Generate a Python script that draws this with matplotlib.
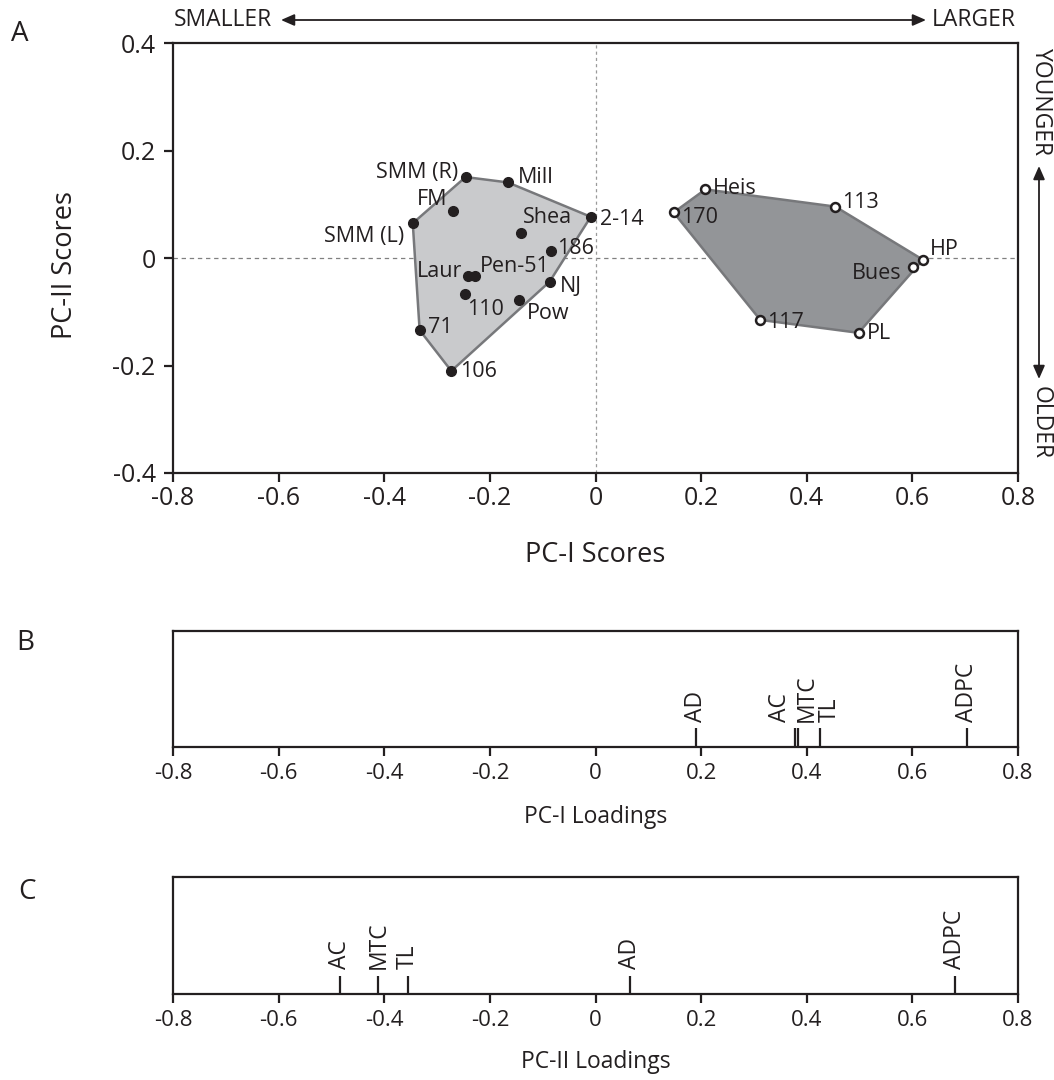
import matplotlib
matplotlib.use("Agg")
import matplotlib.pyplot as plt
import numpy as np

plt.rcParams['font.family'] = ['Open Sans', 'DejaVu Sans']
INK = '#231f20'

# ---- PC scores: group with filled markers ----
g1_names = ['SMM (R)', 'Mill', 'FM', 'SMM (L)', 'Shea', '2-14', '186', 'Laur',
            'Pen-51', 'NJ', '110', 'Pow', '71', '106']
g1_pc1 = [-0.246, -0.166, -0.270, -0.346, -0.141, -0.009, -0.084, -0.242,
          -0.229, -0.087, -0.247, -0.144, -0.333, -0.273]
g1_pc2 = [0.151, 0.141, 0.087, 0.065, 0.047, 0.077, 0.014, -0.033,
          -0.033, -0.044, -0.067, -0.078, -0.134, -0.210]

# ---- PC scores: group with open markers ----
g2_names = ['Heis', '170', '113', 'HP', 'Bues', '117', 'PL']
g2_pc1 = [0.208, 0.148, 0.454, 0.620, 0.601, 0.312, 0.498]
g2_pc2 = [0.128, 0.085, 0.096, -0.003, -0.017, -0.115, -0.139]

# ---- variable loadings ----
load_vars = ['AD', 'AC', 'MTC', 'TL', 'ADPC']
pc1_load = [0.190, 0.378, 0.384, 0.425, 0.703]
pc2_load = [0.065, -0.483, -0.411, -0.355, 0.680]

ticks = [-0.8, -0.6, -0.4, -0.2, 0, 0.2, 0.4, 0.6, 0.8]
tick_text = ['-0.8', '-0.6', '-0.4', '-0.2', '0', '0.2', '0.4', '0.6', '0.8']
yticks_a = [-0.4, -0.2, 0, 0.2, 0.4]
ytick_text_a = ['-0.4', '-0.2', '0', '0.2', '0.4']

# label placement (pixel offsets from each marker, horizontal alignment)
g1_offsets = {
    'SMM (R)': (-7, 5, 'right'), 'Mill': (10, 5, 'left'), 'FM': (-6, 12, 'right'),
    'SMM (L)': (-9, -13, 'right'), 'Shea': (2, 15, 'left'), '2-14': (9, -3, 'left'),
    '186': (6, 2, 'left'), 'Laur': (-5, 4, 'right'), 'Pen-51': (5, 9, 'left'),
    'NJ': (10, -5, 'left'), '110': (2, -15, 'left'), 'Pow': (7, -13, 'left'),
    '71': (8, 3, 'left'), '106': (9, -1, 'left'),
}
g2_offsets = {
    'Heis': (8, 1, 'left'), '170': (7, -5, 'left'), '113': (7, 4, 'left'),
    'HP': (7, 10, 'left'), 'Bues': (-11, -6, 'right'), '117': (7, -3, 'left'),
    'PL': (8, -1, 'left'),
}


def convex_hull(xs, ys):
    pts = sorted(set(zip(xs, ys)))

    def cross(o, a, b):
        return (a[0] - o[0]) * (b[1] - o[1]) - (a[1] - o[1]) * (b[0] - o[0])

    lower, upper = [], []
    for p in pts:
        while len(lower) >= 2 and cross(lower[-2], lower[-1], p) <= 0:
            lower.pop()
        lower.append(p)
    for p in reversed(pts):
        while len(upper) >= 2 and cross(upper[-2], upper[-1], p) <= 0:
            upper.pop()
        upper.append(p)
    return np.array(lower[:-1] + upper[:-1])


W, H = 1054, 1080
fig = plt.figure(figsize=(W / 100, H / 100), dpi=100)


def box(left, top, right, bottom):
    return [left / W, 1 - bottom / H, (right - left) / W, (bottom - top) / H]


axA = fig.add_axes(box(173, 43.3, 1018, 473))
axB = fig.add_axes(box(173, 630.7, 1018, 746.7))
axC = fig.add_axes(box(173, 877.3, 1018, 994.3))

for ax in (axA, axB, axC):
    for s in ax.spines.values():
        s.set_linewidth(1.6)
        s.set_color(INK)
    ax.set_xlim(-0.8, 0.8)
    ax.set_xticks(ticks)
    ax.tick_params(axis='both', direction='out', length=6.5, width=1.6,
                   color=INK, labelcolor=INK)

# ---------------- panel A ----------------
axA.set_ylim(-0.4, 0.4)
axA.set_xticklabels(tick_text, fontsize=18)
axA.set_yticks(yticks_a)
axA.set_yticklabels(ytick_text_a, fontsize=18)
axA.tick_params(axis='x', pad=3)
axA.tick_params(axis='y', pad=6)

axA.axhline(0, color='#808080', lw=0.9, dashes=(3.5, 3), zorder=1)
axA.axvline(0, color='#9a9a9a', lw=0.9, dashes=(2.5, 2.5), zorder=1)

h1 = convex_hull(g1_pc1, g1_pc2)
h2 = convex_hull(g2_pc1, g2_pc2)
axA.fill(h1[:, 0], h1[:, 1], facecolor='#c9cacc', edgecolor='#77787b',
         lw=1.8, zorder=2)
axA.fill(h2[:, 0], h2[:, 1], facecolor='#939598', edgecolor='#77787b',
         lw=1.8, zorder=2)

axA.plot(g1_pc1, g1_pc2, 'o', ms=7, mfc=INK, mec=INK, zorder=4)
axA.plot(g2_pc1, g2_pc2, 'o', ms=6.4, mfc='white', mec=INK, mew=1.8, zorder=4)

for names, xs, ys, offs in ((g1_names, g1_pc1, g1_pc2, g1_offsets),
                            (g2_names, g2_pc1, g2_pc2, g2_offsets)):
    for n, x, y in zip(names, xs, ys):
        dx, dy, ha = offs[n]
        axA.annotate(n, (x, y), xytext=(dx, dy), textcoords='offset pixels',
                     ha=ha, va='center', fontsize=15.5, color=INK, zorder=5)

axA.set_xlabel('PC-I Scores', fontsize=19.5, color=INK)
axA.xaxis.set_label_coords(0.5, (473 - 555) / 429.7)
axA.xaxis.label.set_va('center')
axA.set_ylabel('PC-II Scores', fontsize=19.5, color=INK)
axA.yaxis.set_label_coords((65 - 173) / 845, (473 - 265) / 429.7)
axA.yaxis.label.set_va('center')

# direction arrows around panel A
fig.text(272 / W, 1 - 20 / H, 'SMALLER', ha='right', va='center',
         fontsize=16.5, color=INK)
fig.text(932 / W, 1 - 20 / H, 'LARGER', ha='left', va='center',
         fontsize=16.5, color=INK)
fig.add_artist(matplotlib.patches.FancyArrowPatch(
    (281 / W, 1 - 20 / H), (926 / W, 1 - 20 / H), transform=fig.transFigure,
    arrowstyle='<|-|>,head_length=8,head_width=3.5', color=INK, lw=1.3,
    shrinkA=0, shrinkB=0))
fig.text(1041 / W, 1 - 102 / H, 'YOUNGER', ha='center', va='center',
         rotation=270, fontsize=16.5, color=INK)
fig.text(1041 / W, 1 - 423 / H, 'OLDER', ha='center', va='center',
         rotation=270, fontsize=16.5, color=INK)
fig.add_artist(matplotlib.patches.FancyArrowPatch(
    (1039 / W, 1 - 166 / H), (1039 / W, 1 - 379 / H), transform=fig.transFigure,
    arrowstyle='<|-|>,head_length=8,head_width=3.5', color=INK, lw=1.3,
    shrinkA=0, shrinkB=0))


# ---------------- loadings panels ----------------
def loadings(ax, values, xlabel, label_shift, label_y_px):
    ax.set_ylim(0, 1)
    ax.set_yticks([])
    ax.set_xticklabels(tick_text, fontsize=16)
    ax.tick_params(axis='x', pad=5)
    hpx = ax.get_position().height * H
    tick_h = 18.5 / hpx
    ax.vlines(values, 0, tick_h, color=INK, lw=1.6)
    for name, v in zip(load_vars, values):
        dx = label_shift.get(name, 0)
        ax.annotate(name, (v, label_y_px / hpx), xytext=(dx, 0),
                    textcoords='offset pixels', rotation=90, ha='center',
                    va='bottom', fontsize=16.5, color=INK)
    ax.set_xlabel(xlabel, fontsize=16.5, color=INK)


loadings(axB, pc1_load, 'PC-I Loadings', {'AC': -15, 'MTC': 8, 'TL': 10}, 25)
axB.xaxis.set_label_coords(0.5, (746.7 - 817) / 116)
axB.xaxis.label.set_va('center')
loadings(axC, pc2_load, 'PC-II Loadings', {}, 25)
axC.xaxis.set_label_coords(0.5, (994.3 - 1062) / 117)
axC.xaxis.label.set_va('center')

# panel letters
fig.text(20 / W, 1 - 34 / H, 'A', ha='center', va='center', fontsize=20, color=INK)
fig.text(25 / W, 1 - 643 / H, 'B', ha='center', va='center', fontsize=20, color=INK)
fig.text(27 / W, 1 - 892 / H, 'C', ha='center', va='center', fontsize=20, color=INK)

fig.savefig('out.png', dpi=100, facecolor='white')
